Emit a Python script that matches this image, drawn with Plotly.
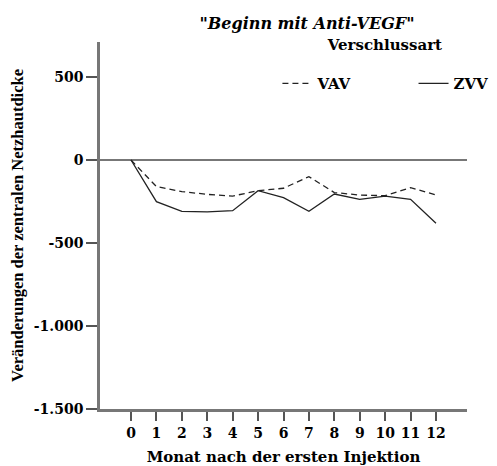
import plotly.graph_objects as go

# months after first injection
monate = list(range(13))

# change of central retinal thickness
vav = [0, -160, -190, -207, -217, -185, -170, -100, -196, -211, -215, -166, -211]
zvv = [0, -251, -309, -313, -305, -185, -227, -309, -205, -237, -217, -237, -381]

y_ticks = [500, 0, -500, -1000, -1500]
y_labels = ["500", "0", "-500", "-1.000", "-1.500"]

wide = "DejaVu Serif"
serif = "Liberation Serif"
pad = "\u00a0" * 11  # spacing between the two legend entries

fig = go.Figure()
fig.add_trace(go.Scatter(x=monate, y=vav, mode="lines", name="VAV" + pad,
                         line=dict(color="#222", width=1.3, dash="6px,4px")))
fig.add_trace(go.Scatter(x=monate, y=zvv, mode="lines", name="ZVV",
                         line=dict(color="#222", width=1.3)))

fig.update_xaxes(range=[-1.22, 13.22], tickvals=monate, ticks="outside",
                 ticklen=9, tickcolor="#555", tickwidth=1.5,
                 showline=True, linecolor="#777", linewidth=2.5,
                 showgrid=False, zeroline=False, automargin=False,
                 tickfont=dict(family=wide, size=14, color="black", weight="bold"),
                 title=dict(text="Monat nach der ersten Injektion", standoff=12,
                            font=dict(family=wide, size=15, color="black", weight="bold")))
fig.update_yaxes(range=[-1500, 711], tickvals=y_ticks, ticktext=y_labels,
                 ticks="outside", ticklen=11, tickcolor="#555", tickwidth=1.5,
                 showline=True, linecolor="#777", linewidth=2.5,
                 showgrid=False, zeroline=True, zerolinecolor="#777", zerolinewidth=2,
                 automargin=False,
                 tickfont=dict(family=wide, size=14, color="black", weight="bold"),
                 title=dict(text="Veränderungen der zentralen Netzhautdicke", standoff=12,
                            font=dict(family=serif, size=16.5, color="black", weight="bold")))

fig.update_layout(
    width=497, height=466,
    margin=dict(l=92, r=38, t=34, b=65, autoexpand=False),
    plot_bgcolor="white", paper_bgcolor="white",
    font=dict(family=wide, color="black"),
    title=dict(text="<i>\"Beginn mit Anti-VEGF\"</i>", x=299 / 497, xanchor="center",
               y=1 - 15 / 466, yanchor="middle",
               font=dict(family=wide, size=16, color="black", weight="bold")),
    legend=dict(orientation="h", x=1.072, xanchor="right", y=1.027, yanchor="top",
                bgcolor="rgba(0,0,0,0)",
                title=dict(text="<span style='font-size:15px'>Verschlussart</span><br>&nbsp;",
                           side="top center",
                           font=dict(family=wide, size=13.5, color="black", weight="bold")),
                font=dict(family=wide, size=15, color="black", weight="bold")),
)

fig.write_html("out.html")
